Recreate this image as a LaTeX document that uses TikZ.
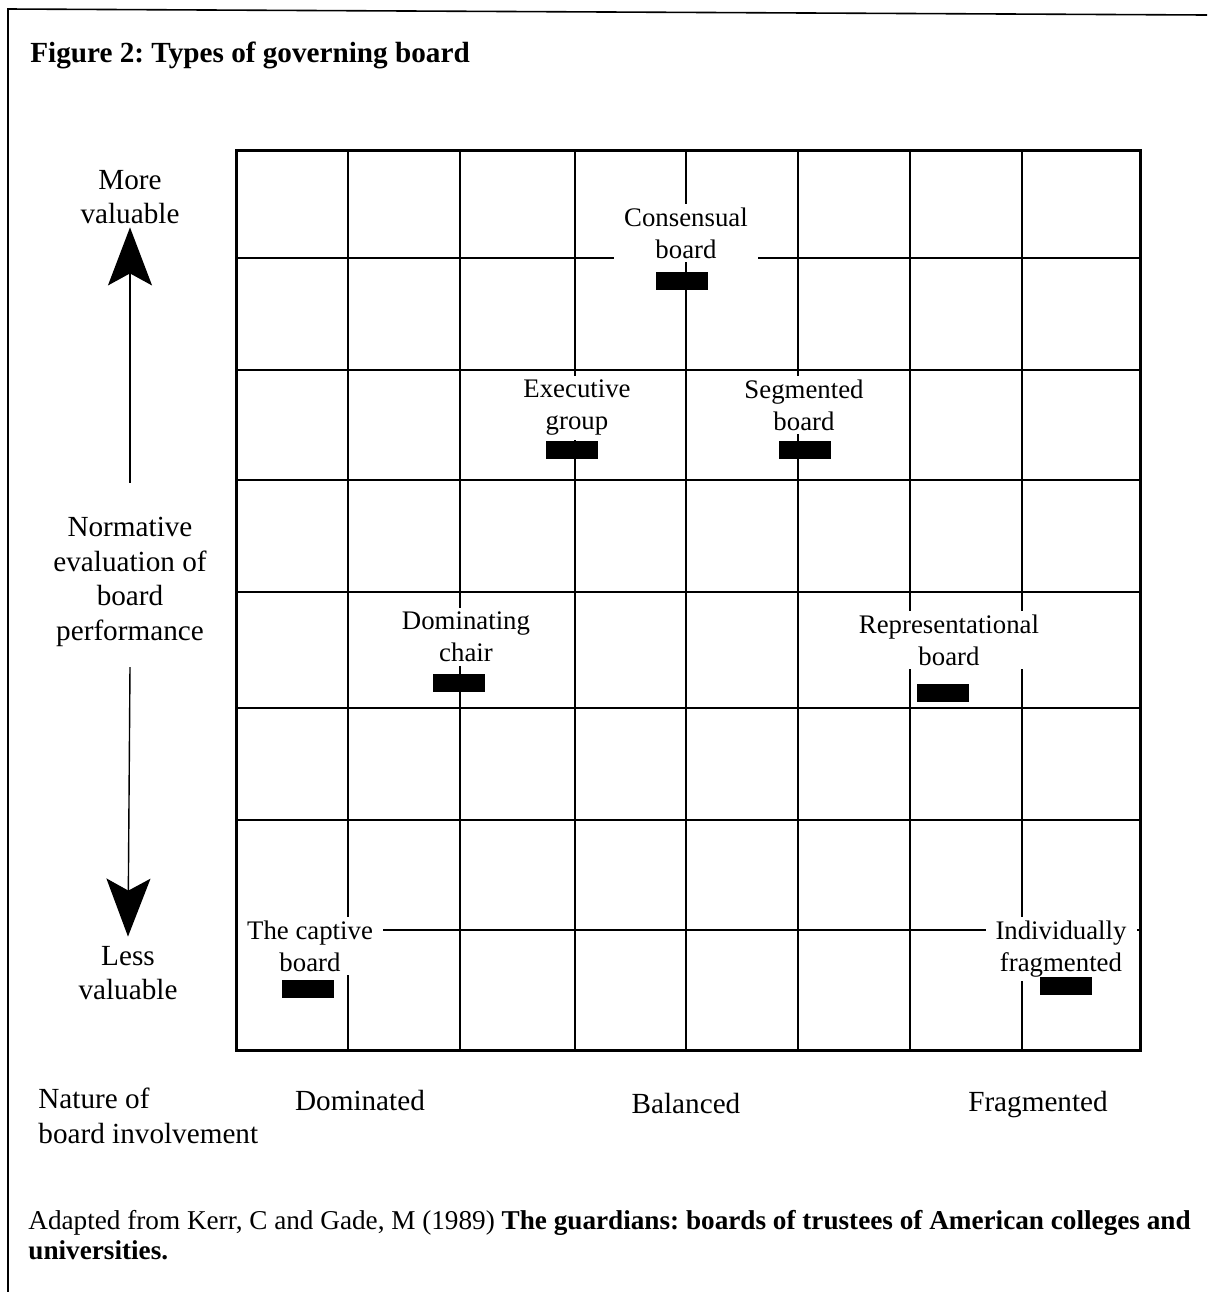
\documentclass[tikz,border=0pt]{standalone}
\usepackage{fontspec}
\setmainfont{Liberation Serif}
\usetikzlibrary{arrows.meta,positioning}
\frenchspacing
\tikzset{
 boardlabel/.style={fill=white, align=center, inner xsep=5pt, inner ysep=2pt, font=\fontsize{13.4}{16}\selectfont},
 boardmark/.style={fill=black, minimum width=26pt, minimum height=9pt, inner sep=0pt},
 axislabel/.style={align=center, inner sep=0pt, font=\fontsize{14.6}{17.3}\selectfont},
 gridline/.style={line width=0.8pt},
 valarrow/.style={-{Stealth[length=29pt,width=22pt,inset=6pt]}, line width=0.7pt}
}

\begin{document}
\begin{tikzpicture}[x=0.5pt,y=-0.5pt]
\useasboundingbox (0,0) rectangle (1207,1292);
\draw[line width=0.8pt] (8,1292) -- (8,9) -- (1207,15);
\node[anchor=west, inner sep=0pt, font=\fontsize{14.6}{17}\selectfont\bfseries] (title) at (30,55) {Figure 2: Types of governing board};
% grid
\foreach \x in {348,460,575,686,798,910,1022}
 \draw[gridline] (\x,150) -- (\x,1050);
\foreach \y in {258,370,480,592,708,820,930}
 \draw[gridline] (236,\y) -- (1140,\y);
% board types
\node[boardlabel] (cons) at (686,233) {Consensual\\board};
\node[boardlabel] (exec) at (577,408) {Executive\\group};
\node[boardlabel] (seg) at (804,405) {Segmented\\board};
\node[boardlabel] (domch) at (466,637) {Dominating\\chair};
\node[boardlabel] (rep) at (949,640) {Representational\\board};
\node[boardlabel] (capt) at (310,946) {The captive\\board};
\node[boardlabel] (indiv) at (1061,949) {Individually\\fragmented};
\node[boardmark] (consbar) at (682,281) {};
\node[boardmark] (execbar) at (572,450) {};
\node[boardmark] (segbar) at (805,450) {};
\node[boardmark] (domchbar) at (459,683) {};
\node[boardmark] (repbar) at (943,693) {};
\node[boardmark] (captbar) at (308,989) {};
\node[boardmark] (indivbar) at (1066,986) {};
\draw[line width=1.5pt] (236,150) rectangle (1140,1050);
% vertical axis
\node[axislabel] (more) at (130,197) {More\\valuable};
\node[axislabel] (norm) at (130,582) {Normative\\evaluation of\\board\\performance};
\node[axislabel] (less) at (128,973) {Less\\valuable};
\draw[valarrow] ([yshift=17pt]norm.north) -- ([yshift=-1.5pt]more.south);
\draw[valarrow] ([yshift=-10pt]norm.south) -- ([yshift=4.5pt]less.north);
% horizontal axis
\node[axislabel, anchor=west, align=left] (nature) at (38,1116) {Nature of\\board involvement};
\node[axislabel] (dom) at (360,1100) {Dominated};
\node[axislabel] (bal) at (686,1103) {Balanced};
\node[axislabel] (frag) at (1038,1105) {Fragmented};
\node[anchor=north west, align=left, inner sep=0pt, font=\fontsize{13.6}{15}\selectfont] (source) at (28,1210) {Adapted from Kerr, C and Gade, M (1989) \textbf{The guardians: boards of trustees of American colleges and}\\\textbf{universities.}};
\end{tikzpicture}
\end{document}
